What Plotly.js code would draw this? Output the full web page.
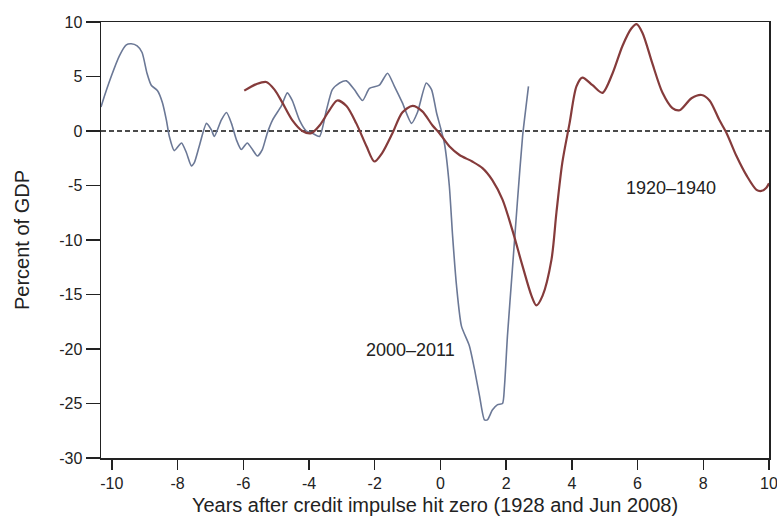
<!DOCTYPE html>
<html>
<head>
<meta charset="utf-8">
<script src="https://cdn.plot.ly/plotly-3.0.1.min.js"></script>
<style>html,body{margin:0;padding:0;background:#fff;}#chart{width:777px;height:518px;}</style>
</head>
<body>
<div id="chart"></div>
<script>
// 2000–2011 series (blue)
const blueX = [-10.33,-10.29,-10.02,-9.77,-9.56,-9.41,-9.23,-9.08,-8.93,-8.80,-8.61,-8.46,-8.34,-8.25,-8.10,-7.88,-7.73,-7.58,-7.49,-7.34,-7.12,-6.97,-6.88,-6.67,-6.51,-6.36,-6.21,-6.06,-5.88,-5.72,-5.57,-5.42,-5.27,-5.11,-4.84,-4.66,-4.51,-4.29,-4.08,-3.90,-3.68,-3.47,-3.29,-3.07,-2.86,-2.62,-2.37,-2.16,-1.86,-1.61,-1.40,-1.16,-0.88,-0.70,-0.43,-0.27,-0.12,0.12,0.27,0.37,0.49,0.64,0.88,1.04,1.19,1.34,1.43,1.58,1.74,1.89,1.95,2.04,2.19,2.34,2.50,2.62,2.68];
const blueY = [2.2,2.6,5.0,6.9,7.9,8.0,7.8,7.2,5.3,4.2,3.7,2.6,1.0,-0.5,-1.8,-1.1,-2.0,-3.2,-2.9,-1.4,0.7,0.1,-0.5,1.0,1.7,0.7,-0.8,-1.7,-1.1,-1.7,-2.3,-1.7,-0.2,1.0,2.3,3.5,2.8,1.0,0.0,-0.2,-0.5,1.9,3.8,4.4,4.6,3.8,2.8,3.9,4.2,5.3,4.1,2.6,0.7,1.7,4.4,3.8,1.7,-1.1,-5.0,-9.6,-14.2,-17.9,-19.7,-21.9,-24.3,-26.5,-26.5,-25.6,-25.1,-25.0,-23.4,-18.8,-12.7,-6.6,-0.5,2.6,4.1];
// 1920–1940 series (red)
const redX = [-5.97,-5.60,-5.30,-5.05,-4.81,-4.51,-4.20,-3.93,-3.68,-3.38,-3.14,-2.86,-2.56,-2.25,-2.01,-1.77,-1.46,-1.16,-0.85,-0.55,-0.24,-0.03,0.27,0.58,0.97,1.28,1.58,1.89,2.19,2.50,2.77,2.92,3.11,3.38,3.53,3.71,3.93,4.14,4.32,4.63,4.93,5.24,5.54,5.81,5.97,6.15,6.45,6.76,7.06,7.28,7.64,7.95,8.19,8.49,8.71,9.01,9.32,9.62,9.77,9.92,10.0];
const redY = [3.7,4.3,4.5,3.8,2.6,1.0,0.0,-0.2,0.5,1.9,2.8,2.3,0.7,-1.4,-2.8,-2.0,-0.2,1.7,2.3,1.8,0.5,-0.2,-1.4,-2.2,-2.8,-3.4,-4.5,-6.3,-9.1,-12.4,-15.1,-16.0,-15.1,-11.8,-7.5,-2.9,0.7,4.1,4.9,4.2,3.5,5.3,7.8,9.4,9.8,9.0,6.2,3.5,2.1,1.9,3.0,3.3,2.8,1.0,-0.2,-2.3,-4.1,-5.4,-5.5,-5.2,-4.8];
const xTicks = [-10,-8,-6,-4,-2,0,2,4,6,8,10];
const yTicks = [10,5,0,-5,-10,-15,-20,-25,-30];
const labels = [
  {text: '2000–2011', x: -0.91, y: -20.1},
  {text: '1920–1940', x: 7.03, y: -5.2}
];

const fam = 'Liberation Sans, Arial, sans-serif';
const tickFont = {family: fam, size: 16, color: '#222'};
const titleFont = {family: fam, size: 20, color: '#222'};
const noteFont = {family: fam, size: 18, color: '#222'};

const traces = [
  {x: blueX, y: blueY, type: 'scatter', mode: 'lines', line: {color: '#6b7896', width: 1.6, shape: 'spline', smoothing: 0.6}, hoverinfo: 'skip', showlegend: false},
  {x: redX, y: redY, type: 'scatter', mode: 'lines', line: {color: '#853b3b', width: 2.2, shape: 'spline', smoothing: 0.8}, hoverinfo: 'skip', showlegend: false}
];

const layout = {
  width: 777, height: 518,
  margin: {l: 101, r: 8, t: 22, b: 60},
  paper_bgcolor: '#fff', plot_bgcolor: '#fff',
  font: tickFont,
  showlegend: false,
  xaxis: {
    range: [-10.33, 10], tickvals: xTicks, ticktext: xTicks.map(String),
    showgrid: false, zeroline: false, showline: true, mirror: true,
    linecolor: '#222', linewidth: 1.5, ticks: 'outside', ticklen: 10, tickwidth: 1.5, tickcolor: '#222',
    tickfont: tickFont, ticklabeloverflow: 'allow',
    title: {text: 'Years after credit impulse hit zero (1928 and Jun 2008)', font: titleFont, standoff: 7}
  },
  yaxis: {
    range: [-30, 10], tickvals: yTicks, ticktext: yTicks.map(String),
    showgrid: false, zeroline: false, showline: true, mirror: true,
    linecolor: '#222', linewidth: 1.5, ticks: 'outside', ticklen: 14, tickwidth: 1.5, tickcolor: '#222',
    tickfont: tickFont,
    title: {text: 'Percent of GDP', font: titleFont, standoff: 24}
  },
  shapes: [
    {type: 'line', xref: 'paper', x0: 0, x1: 1, yref: 'y', y0: 0, y1: 0, line: {color: '#111', width: 1.5, dash: '5px,3px'}, layer: 'below'}
  ],
  annotations: labels.map(l => ({text: l.text, x: l.x, y: l.y, xref: 'x', yref: 'y', showarrow: false, font: noteFont}))
};

Plotly.newPlot('chart', traces, layout, {displayModeBar: false, staticPlot: true});
</script>
</body>
</html>
